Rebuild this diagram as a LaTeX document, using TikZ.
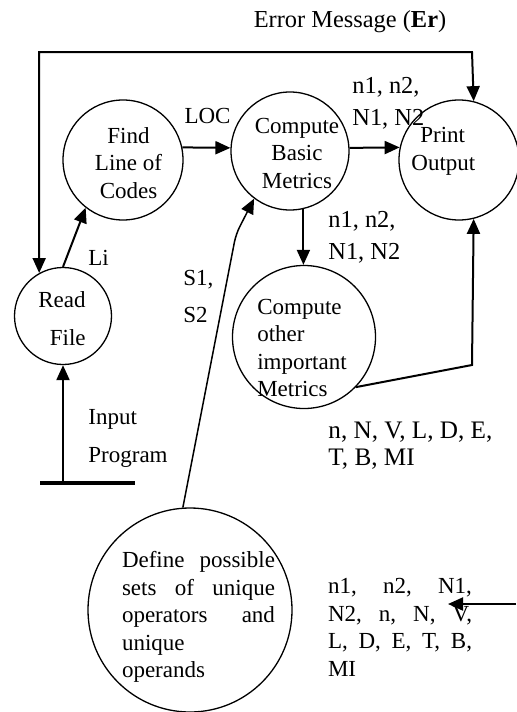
\documentclass[tikz,border=0pt]{standalone}
\usepackage{fontspec}
\setmainfont{Liberation Serif}
\usetikzlibrary{arrows.meta}
\tikzstyle{proc}=[circle,draw=black,line width=0.65pt,inner sep=0pt]
\tikzstyle{txt}=[inner sep=0pt,font=\fontsize{11.5}{13.75}\selectfont]
\tikzstyle{lbl}=[inner sep=0pt,font=\fontsize{12.2}{13.75}\selectfont]
\tikzstyle{flow}=[line width=1pt,->]
\begin{document}
\begin{tikzpicture}[x=0.5pt,y=-0.5pt,>={Triangle[length=7.5pt,width=6.5pt]}]
    \useasboundingbox (0,0) rectangle (516,712);
    % processes
    \node [proc,minimum size=60pt] (find) at (123,160) {};
    \node [proc,minimum size=59pt] (cbm) at (290,151) {};
    \node [proc,minimum size=60pt] (print) at (459,160) {};
    \node [proc,minimum size=48.5pt] (read) at (63,316) {};
    \node [proc,minimum size=71.5pt] (cop) at (304,337) {};
    \node [proc,minimum size=102pt] (def) at (190,610) {};
    % process texts
    \node [txt,align=center] (findt) at (128.5,163) {Find\\Line of\\Codes};
    \node [txt,align=center] (cbmt) at (297,153) {Compute\\Basic\\Metrics};
    \node [txt,align=left,anchor=west] (printt) at (411,151.5) {\hspace*{4.5pt}Print\\Output};
    \node [txt,align=right] (readt) at (62,318.5) {Read\\[5.25pt]File};
    \node [txt,align=left] (copt) at (302,348) {Compute\\other\\important\\Metrics};
    \node [txt,text width=76.5pt,align=left] (deft) at (198.5,617)
        {Define\hfill possible\\sets\hfill of\hfill unique\\operators\hfill and\\unique\\operands};
    % data labels
    \node [lbl,anchor=base] (err) at (350,27) {Error Message (\textbf{Er})};
    \node [txt,anchor=base] (loc) at (207.5,123) {LOC};
    \node [lbl,anchor=north west,align=left] (m1) at (352,76.5) {n1, n2,\\[2.25pt]N1, N2};
    \node [lbl,anchor=north west,align=left] (m2) at (328,210.5) {n1, n2,\\[2.25pt]N1, N2};
    \node [txt,anchor=base west] (li) at (88,265) {Li};
    \node [txt,anchor=north west,align=left] (s12) at (183,269.5) {S1,\\[4.75pt]S2};
    \node [txt,anchor=north west,align=left] (inp) at (88,409.5) {Input\\[5.25pt]Program};
    \node [lbl,font=\fontsize{12.6}{13.75}\selectfont,anchor=north west,align=left] (m3) at (328,421.3)
        {n, N, V, L, D, E,\\T, B, MI};
    \node [txt,text width=72pt,align=left] (allm) at (400,627.5)
        {n1,\hfill n2,\hfill N1,\\N2,\hfill n,\hfill N,\hfill V,\\L,\hfill D,\hfill E,\hfill T,\hfill B,\\MI};
    % input source
    \node [fill=black,minimum width=47.5pt,minimum height=2pt,inner sep=0pt] (src) at (87.5,483) {};
    \coordinate (ertop) at (472,52);
    \coordinate (obend) at (472,365);
    \coordinate (sbend) at (236,234);
    \coordinate (vin) at (516,604);
    \coordinate (vtip) at (448,604);
    \draw [flow] (src.north -| read.south) -- (read.south);
    \draw [flow,<->] (read.119) |- (ertop) -- (print.76);
    \draw [flow] (read.north) -- (find.232);
    \draw [flow] (find.12) -- (cbm.177);
    \draw [flow] (cbm.3) -- (print.168);
    \draw [flow] (cbm.283) -- (cbm.283 |- cop.north);
    \draw [flow] (cop.316) -- (obend) -- (print.284);
    \draw [flow,line width=0.75pt,rounded corners=4pt] (def.94) -- (sbend) -- (cbm.233);
    \draw [flow] (vin) -- (vtip);
\end{tikzpicture}
\end{document}
